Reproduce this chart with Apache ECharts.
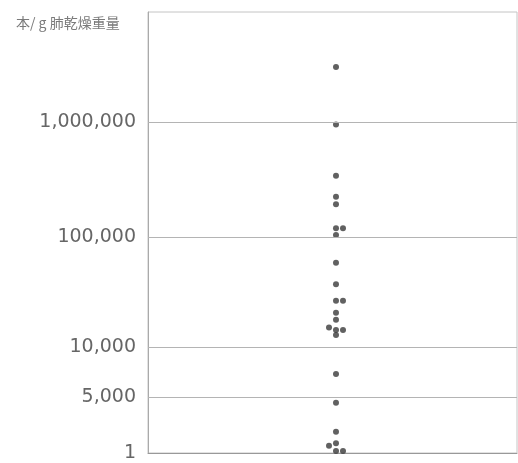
<!DOCTYPE html>
<html>
<head>
<meta charset="utf-8">
<script src="https://cdn.jsdelivr.net/npm/echarts@6/dist/echarts.min.js"></script>
<style>
  html, body { margin: 0; padding: 0; background: #fff; }
  #chart { width: 518px; height: 463px; }
</style>
</head>
<body>
<div id="chart"></div>
<script>
// tick values and their labels
const tickValues = [1, 5000, 10000, 100000, 1000000];
const tickLabels = ['1', '5,000', '10,000', '100,000', '1,000,000'];

// counts per g of dry lung, one per dot
const counts = [3000000, 950000, 343000, 225000, 194000, 120000, 120000, 105000,
    58900, 37400, 26500, 26500, 20600, 17700, 15100, 14300, 14300, 12900,
    6900, 4530, 1920, 660, 870, 180, 180];
// swarm column of each dot (-1 left, 0 centre, 1 right)
const columns = [0, 0, 0, 0, 0, 0, 1, 0,
    0, 0, 0, 1, 0, 0, -1, 0, 1, 0,
    0, 0, 0, -1, 0, 0, 1];

// broken axis: linear from 1 to 5,000, log above
const knotVals = [1, 5000, 10000, 100000, 1000000];
const knotPos = [0, 55.5, 106, 215.5, 331];
function toAxis (v) {
    if (v <= knotVals[1]) {
        return (v - knotVals[0]) / (knotVals[1] - knotVals[0]) * knotPos[1];
    }
    for (let i = 1; i < knotVals.length - 1; i++) {
        if (v <= knotVals[i + 1]) {
            const t = (Math.log10(v) - Math.log10(knotVals[i])) /
                (Math.log10(knotVals[i + 1]) - Math.log10(knotVals[i]));
            return knotPos[i] + t * (knotPos[i + 1] - knotPos[i]);
        }
    }
    return knotPos[4] + (Math.log10(v) - 6) * 115.5;
}

const tickPos = tickValues.map(toAxis);
const points = counts.map((c, i) => [columns[i], toAxis(c)]);

const chart = echarts.init(document.getElementById('chart'));
const option = {
    animation: false,
    title: {
        text: '本/ g 肺乾燥重量',
        left: 11,
        top: 11,
        textStyle: {
            fontFamily: '"Noto Sans CJK JP"',
            fontSize: 14,
            fontWeight: 'normal',
            color: '#7a7a7a'
        }
    },
    grid: {
        left: 148,
        right: 1,
        top: 12,
        bottom: 10,
        show: true,
        borderColor: '#c4c4c4',
        borderWidth: 1
    },
    xAxis: {
        type: 'value',
        min: -26.86,
        max: 25.86,
        axisLine: { show: true, onZero: false, lineStyle: { color: '#999' } },
        axisTick: { show: false },
        axisLabel: { show: false },
        splitLine: { show: false }
    },
    yAxis: {
        type: 'value',
        min: 0,
        max: 441,
        axisLine: { show: true, onZero: false, lineStyle: { color: '#aaa' } },
        axisTick: { show: false, customValues: tickPos },
        axisLabel: {
            customValues: tickPos,
            formatter: function (val) {
                const i = tickPos.findIndex(p => Math.abs(p - val) < 0.01);
                return i >= 0 ? tickLabels[i] : '';
            },
            margin: 12,
            fontFamily: '"DejaVu Sans"',
            fontSize: 19,
            color: '#666'
        },
        splitLine: { show: false }
    },
    series: [{
        type: 'scatter',
        data: points,
        symbolSize: 6,
        itemStyle: { color: '#3a3a3a' },
        markLine: {
            silent: true,
            symbol: 'none',
            label: { show: false },
            lineStyle: { color: '#b4b4b4', width: 1, type: 'solid' },
            data: tickPos.slice(1).map(p => ({ yAxis: p }))
        }
    }]
};
chart.setOption(option);
</script>
</body>
</html>
